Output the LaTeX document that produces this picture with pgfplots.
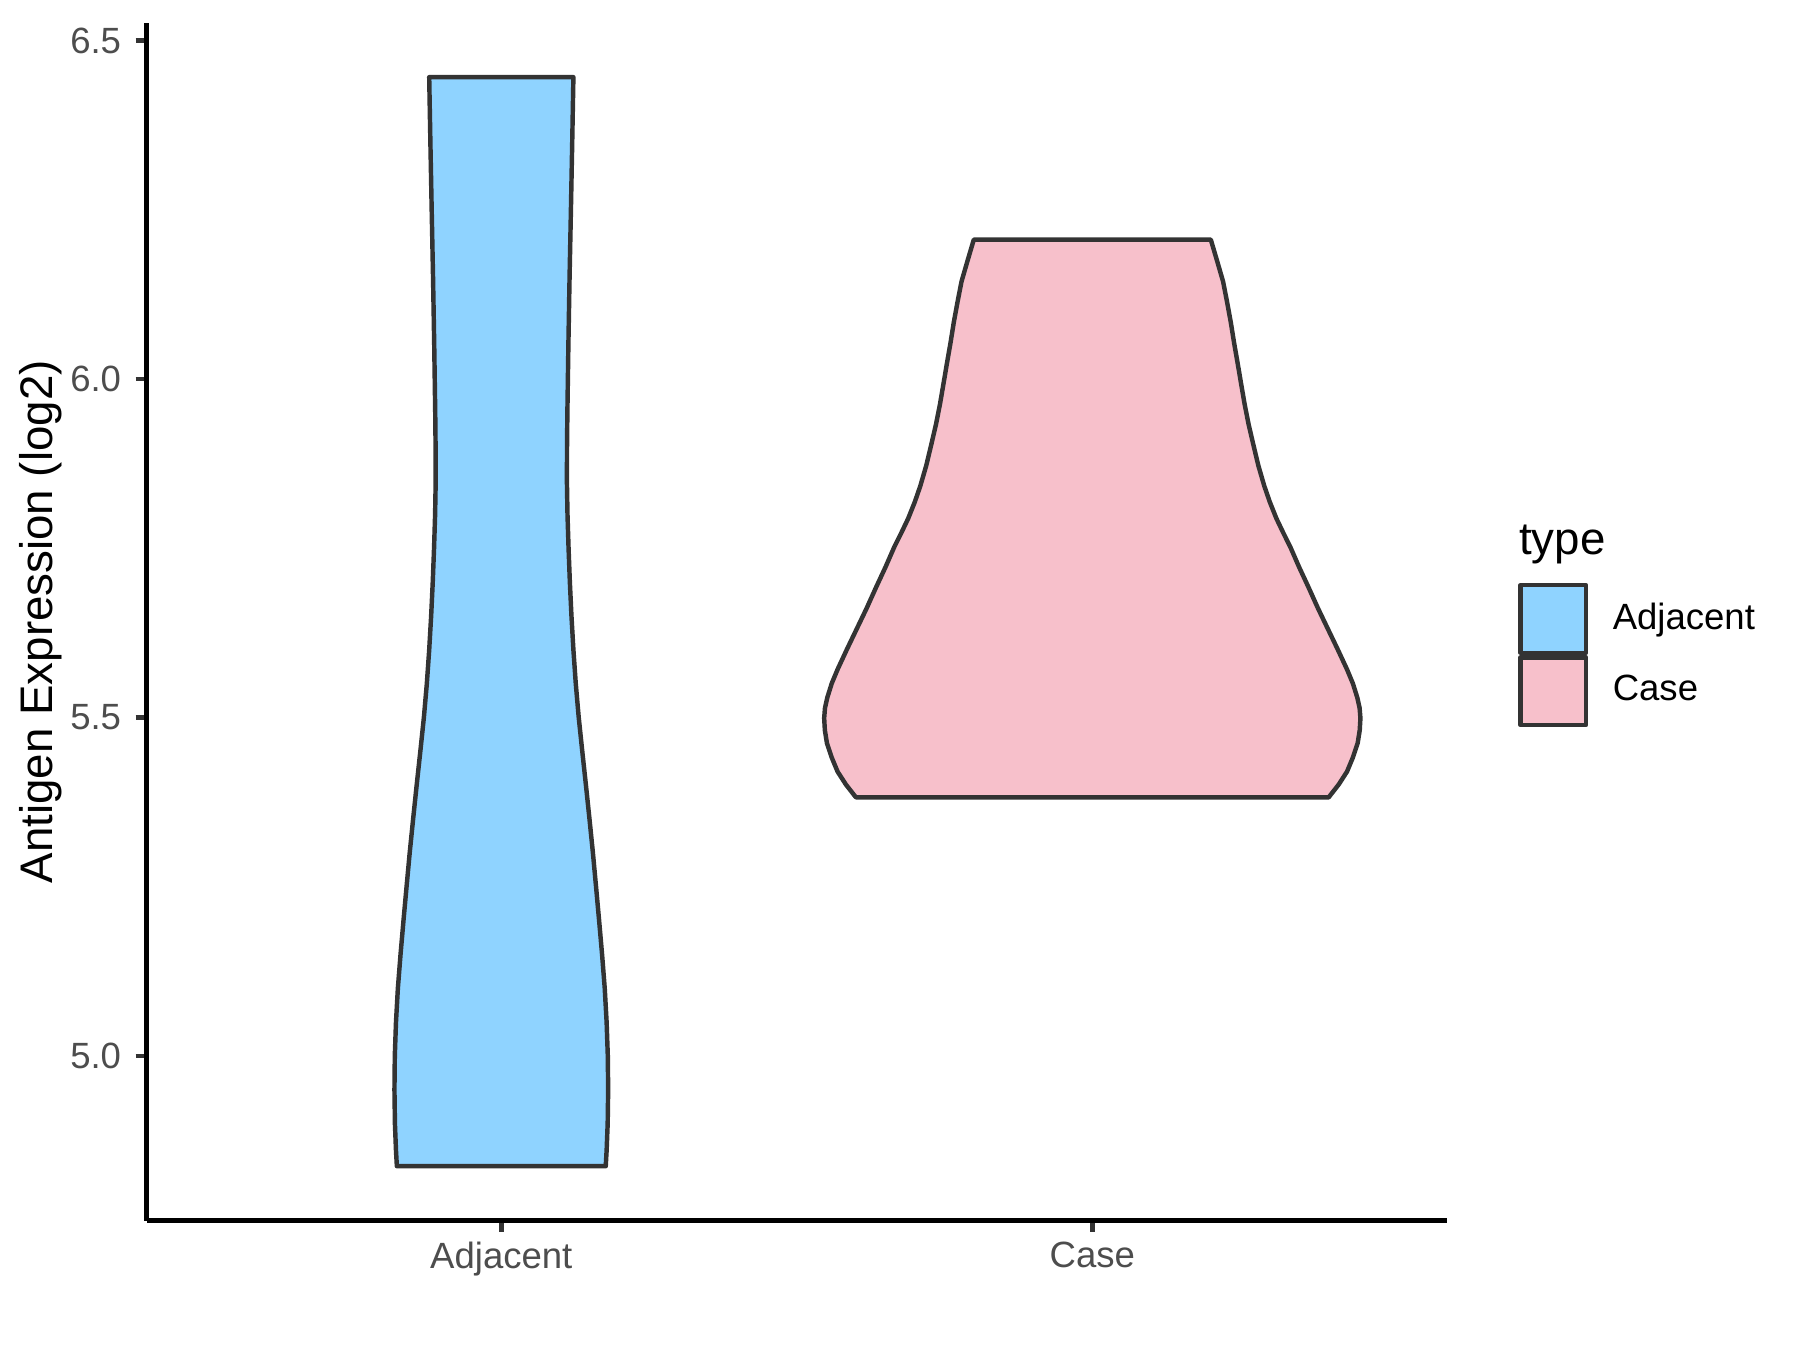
\documentclass[border=0pt]{standalone}
\usepackage{fontspec}
\setmainfont{Liberation Sans}
\usepackage{pgfplots}
\pgfplotsset{compat=1.18}
\definecolor{adjfill}{RGB}{143,211,255}
\definecolor{casefill}{RGB}{247,192,203}
\definecolor{grey20}{RGB}{51,51,51}
\definecolor{grey30}{RGB}{77,77,77}

\begin{document}
\begin{tikzpicture}
% page frame: 1800 x 1350 px at 300 dpi
\useasboundingbox (-35.34pt,-31.15pt) rectangle (398.26pt,294.05pt);
\begin{axis}[
    at={(0pt,0pt)}, anchor=south west,
    scale only axis,
    width=313.2pt, height=288.6pt,
    xmin=0.4, xmax=2.6,
    ymin=4.7565, ymax=6.5265,
    clip=false,
    axis lines=left,
    axis line style={-, line width=1.07pt, black},
    xtick={1,2},
    xticklabels={Adjacent, Case},
    ytick={5,5.5,6,6.5},
    tick align=outside,
    major tick length=2.65pt,
    tick style={line width=1.07pt, grey20},
    /pgf/number format/assume math mode=true,
    yticklabel style={font=\fontsize{8.8}{10}\selectfont, text=grey30,
        /pgf/number format/fixed, /pgf/number format/fixed zerofill,
        /pgf/number format/precision=1},
    xticklabel style={font=\fontsize{8.8}{10}\selectfont, text=grey30, yshift=1.1pt},
    ylabel={Antigen Expression (log2)},
    ylabel style={font=\fontsize{11}{13}\selectfont, at={(axis description cs:-0.0814,0.5)}, anchor=center},
    legend style={draw=none, fill=none, at={(axis description cs:1.0549,0.5323)}, anchor=north west,
        inner sep=0pt, outer sep=0pt, column sep=5.9pt, row sep=0pt,
        nodes={inner sep=0pt}, font=\fontsize{8.8}{10}\selectfont},
    legend cell align=left,
    legend image code/.code={\draw[#1] (0pt,-8.15pt) rectangle (15.8pt,8.15pt);},
]
% Adjacent
\addplot[fill=adjfill, draw=grey20, line width=1.07pt, line join=round] coordinates {
(0.8233,4.837) (0.8218,4.86) (0.8200,4.90) (0.8192,4.95) (0.8198,5.00) (0.8218,5.05)
(0.8250,5.10) (0.8295,5.15) (0.8345,5.20) (0.8397,5.25) (0.8450,5.30) (0.8508,5.35)
(0.8568,5.40) (0.8630,5.45) (0.8690,5.50) (0.8740,5.55) (0.8780,5.60) (0.8813,5.65)
(0.8840,5.70) (0.8862,5.75) (0.8880,5.80) (0.8890,5.85) (0.8888,5.90) (0.8882,5.95)
(0.8865,6.05) (0.8845,6.15) (0.8822,6.25) (0.8800,6.35) (0.8780,6.446)
(1.1220,6.446) (1.1200,6.35) (1.1178,6.25) (1.1155,6.15) (1.1135,6.05) (1.1118,5.95)
(1.1112,5.90) (1.1110,5.85) (1.1120,5.80) (1.1138,5.75) (1.1160,5.70) (1.1187,5.65)
(1.1220,5.60) (1.1260,5.55) (1.1310,5.50) (1.1370,5.45) (1.1432,5.40) (1.1492,5.35)
(1.1550,5.30) (1.1603,5.25) (1.1655,5.20) (1.1705,5.15) (1.1750,5.10) (1.1782,5.05)
(1.1802,5.00) (1.1808,4.95) (1.1800,4.90) (1.1782,4.86) (1.1767,4.837)
} -- cycle;
\addlegendentry{Adjacent}
% Case
\addplot[fill=casefill, draw=grey20, line width=1.07pt, line join=round] coordinates {
(1.6000,5.382) (1.5830,5.401) (1.5690,5.420) (1.5590,5.441) (1.5510,5.462) (1.5475,5.481)
(1.5463,5.499) (1.5477,5.514) (1.5515,5.529) (1.5590,5.550) (1.5690,5.571) (1.5850,5.601)
(1.6015,5.631) (1.6180,5.661) (1.6340,5.692) (1.6500,5.722) (1.6650,5.752) (1.6770,5.773)
(1.6885,5.794) (1.6995,5.818) (1.7090,5.842) (1.7190,5.872) (1.7275,5.903) (1.7355,5.933)
(1.7423,5.963) (1.7482,5.993) (1.7540,6.023) (1.7600,6.053) (1.7657,6.084) (1.7720,6.114)
(1.7787,6.144) (1.7890,6.175) (1.7995,6.206)
(2.2005,6.206) (2.2110,6.175) (2.2213,6.144) (2.2280,6.114) (2.2343,6.084) (2.2400,6.053)
(2.2460,6.023) (2.2518,5.993) (2.2577,5.963) (2.2645,5.933) (2.2725,5.903) (2.2810,5.872)
(2.2910,5.842) (2.3005,5.818) (2.3115,5.794) (2.3230,5.773) (2.3350,5.752) (2.3500,5.722)
(2.3660,5.692) (2.3820,5.661) (2.3985,5.631) (2.4150,5.601) (2.4310,5.571) (2.4410,5.550)
(2.4485,5.529) (2.4523,5.514) (2.4537,5.499) (2.4525,5.481) (2.4490,5.462) (2.4410,5.441)
(2.4310,5.420) (2.4170,5.401) (2.4000,5.382)
} -- cycle;
\addlegendentry{Case}
\node[anchor=base west, font=\fontsize{11}{13}\selectfont, inner sep=0pt] at (axis description cs:1.0549,0.5557) {type};
\end{axis}
\end{tikzpicture}
\end{document}
